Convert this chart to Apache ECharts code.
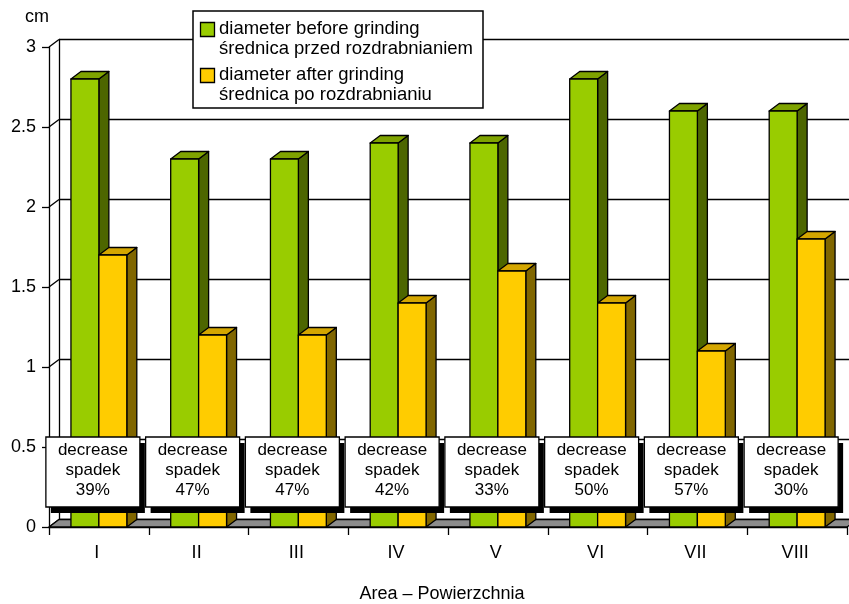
<!DOCTYPE html>
<html>
<head>
<meta charset="utf-8">
<title>Diameter before and after grinding</title>
<script src="https://cdn.jsdelivr.net/npm/echarts@6.0.0/dist/echarts.min.js"></script>
<style>
  html, body { margin: 0; padding: 0; background: #fff; }
  #chart { width: 849px; height: 604px; }
</style>
</head>
<body>
<div id="chart"></div>
<script>
// Areas I–VIII and the measured diameters (cm)
const categories = ['I', 'II', 'III', 'IV', 'V', 'VI', 'VII', 'VIII'];
const diameterBefore = [2.8, 2.3, 2.3, 2.4, 2.4, 2.8, 2.6, 2.6];
const diameterAfter = [1.7, 1.2, 1.2, 1.4, 1.6, 1.4, 1.1, 1.8];
const decreasePct = [39, 47, 47, 42, 33, 50, 57, 30];
const yTicks = [0, 0.5, 1, 1.5, 2, 2.5, 3];
const beforeName = ['diameter before grinding', 'średnica przed rozdrabnianiem'];
const afterName = ['diameter after grinding', 'średnica po rozdrabnianiu'];
const decreaseText = ['decrease', 'spadek'];
const yUnit = 'cm';
const xTitle = 'Area – Powierzchnia';

const FONT = '"Liberation Sans", Arial, Helvetica, sans-serif';
const DX = 10, DY = -7.5;          // depth offset of the 3D wall / bars
const BAR_FRAC = 0.28;             // bar width as fraction of category band
const EDGE = '#000';

const colors = {
  before: { front: '#99CC00', top: '#7FA300', side: '#4D6600' },
  after:  { front: '#FFCC00', top: '#D4A600', side: '#806600' }
};

// One 3D column: front face, right side and top face
function column3d(pal, dir) {
  return function (params, api) {
    const i = api.value(0), v = api.value(1);
    const top = api.coord([i, v]);
    const base = api.coord([i, 0]);
    const band = api.size([1, 0])[0];
    const w = band * BAR_FRAC;
    const x0 = dir < 0 ? top[0] - w : top[0];
    const x1 = x0 + w;
    const yt = top[1], yb = base[1];
    const st = { stroke: EDGE, lineWidth: 1.3, lineJoin: 'round' };
    return {
      type: 'group',
      children: [
        { type: 'polygon', shape: { points: [[x1, yt], [x1 + DX, yt + DY], [x1 + DX, yb + DY], [x1, yb]] },
          style: Object.assign({ fill: pal.side }, st) },
        { type: 'polygon', shape: { points: [[x0, yt], [x1, yt], [x1 + DX, yt + DY], [x0 + DX, yt + DY]] },
          style: Object.assign({ fill: pal.top }, st) },
        { type: 'rect', shape: { x: x0, y: yt, width: w, height: yb - yt },
          style: Object.assign({ fill: pal.front }, st) }
      ]
    };
  };
}

// Grey floor slab under the columns
function floor(params, api) {
  const band = api.size([1, 0])[0];
  const a = api.coord([0, 0]);
  const b = api.coord([categories.length - 1, 0]);
  const xl = a[0] - band / 2, xr = b[0] + band / 2, y = a[1];
  return {
    type: 'polygon',
    shape: { points: [[xl, y], [xr, y], [xr + DX, y + DY], [xl + DX, y + DY]] },
    style: { fill: '#8C8C8C', stroke: EDGE, lineWidth: 1.3 }
  };
}

// Short diagonal joining each front tick to the back-wall gridline
function connector(params, api) {
  const band = api.size([1, 0])[0];
  const p = api.coord([0, api.value(1)]);
  const x = p[0] - band / 2;
  return {
    type: 'line',
    shape: { x1: x, y1: p[1], x2: x + DX, y2: p[1] + DY },
    style: { stroke: EDGE, lineWidth: 1.3 }
  };
}

// Boxed "decrease / spadek / NN%" note below each pair of columns
function decreaseBox(params, api) {
  const i = api.value(0), pct = api.value(1);
  const base = api.coord([i, 0]);
  const w = 94, h = 70;
  const cx = base[0] - 6;
  const x = cx - w / 2, y = base[1] - 90;
  return {
    type: 'group',
    children: [
      { type: 'rect', shape: { x: x + 5, y: y + 6, width: w, height: h }, style: { fill: '#000' } },
      { type: 'rect', shape: { x: x, y: y, width: w, height: h },
        style: { fill: '#fff', stroke: EDGE, lineWidth: 1.3 } },
      { type: 'text', x: cx, y: y + 33,
        style: { text: decreaseText[0] + '\n' + decreaseText[1] + '\n' + pct + '%',
                 font: '17px ' + FONT, fill: '#000', align: 'center', verticalAlign: 'middle', lineHeight: 20 } }
    ]
  };
}

const chart = echarts.init(document.getElementById('chart'), null, { renderer: 'canvas' });

// Legend drawn as a framed box with two-line entries
const legendItems = [
  { name: beforeName, color: colors.before.front },
  { name: afterName, color: colors.after.front }
];
const legendGraphic = [
  { type: 'rect', shape: { x: 193, y: 11, width: 290, height: 97 },
    style: { fill: '#fff', stroke: EDGE, lineWidth: 1.5 }, z: 100 }
];
legendItems.forEach(function (it, k) {
  const y0 = 22 + k * 46;
  legendGraphic.push({ type: 'rect', shape: { x: 200.5, y: y0 + 0.5, width: 14, height: 14 },
    style: { fill: it.color, stroke: EDGE, lineWidth: 1.3 }, z: 101 });
  it.name.forEach(function (line, j) {
    legendGraphic.push({ type: 'text', x: 219, y: y0 + 7 + j * 20,
      style: { text: line, font: '18.5px ' + FONT, fill: '#000', align: 'left', verticalAlign: 'middle' },
      z: 101 });
  });
});

chart.setOption({
  animation: false,
  backgroundColor: '#fff',
  textStyle: { fontFamily: FONT },
  grid: [
    { left: 49, top: 47, width: 798, height: 480 },
    { left: 49 + DX, top: 47 + DY, width: 798, height: 480 }
  ],
  xAxis: [
    { type: 'category', gridIndex: 0, data: categories,
      axisLine: { lineStyle: { color: EDGE, width: 1.3 } },
      axisTick: { show: true, length: 8, alignWithLabel: false, lineStyle: { color: EDGE, width: 1.3 } },
      axisLabel: { fontSize: 18, color: '#000', fontFamily: FONT, margin: 17, padding: [0, 4, 0, 0] },
      splitLine: { show: false } },
    { type: 'category', gridIndex: 1, data: categories, show: false }
  ],
  yAxis: [
    { type: 'value', gridIndex: 0, min: 0, max: 3, interval: 0.5,
      axisLine: { show: true, lineStyle: { color: EDGE, width: 1.3 } },
      axisTick: { show: true, length: 7, lineStyle: { color: EDGE, width: 1.3 } },
      axisLabel: { fontSize: 18, color: '#000', fontFamily: FONT, margin: 13 },
      splitLine: { show: false } },
    { type: 'value', gridIndex: 1, min: 0, max: 3, interval: 0.5,
      axisLine: { show: true, lineStyle: { color: EDGE, width: 1.3 } },
      axisTick: { show: false },
      axisLabel: { show: false },
      splitLine: { show: true, lineStyle: { color: EDGE, width: 1.3 } } }
  ],
  graphic: legendGraphic.concat([
    { type: 'text', x: 37, y: 17, style: { text: yUnit, font: '18px ' + FONT, fill: '#000', align: 'center', verticalAlign: 'middle' } },
    { type: 'text', x: 442, y: 594, style: { text: xTitle, font: '18px ' + FONT, fill: '#000', align: 'center', verticalAlign: 'middle' } }
  ]),
  series: [
    { type: 'custom', name: 'connectors', xAxisIndex: 0, yAxisIndex: 0, z: 2, silent: true,
      renderItem: connector, data: yTicks.map(function (v) { return [0, v]; }) },
    { type: 'custom', name: 'floor', xAxisIndex: 0, yAxisIndex: 0, z: 3, silent: true,
      renderItem: floor, data: [[0, 0]] },
    { type: 'custom', name: beforeName.join(' / '), xAxisIndex: 0, yAxisIndex: 0, z: 4,
      renderItem: column3d(colors.before, -1),
      data: diameterBefore.map(function (v, i) { return [i, v]; }) },
    { type: 'custom', name: afterName.join(' / '), xAxisIndex: 0, yAxisIndex: 0, z: 5,
      renderItem: column3d(colors.after, 1),
      data: diameterAfter.map(function (v, i) { return [i, v]; }) },
    { type: 'custom', name: 'decrease', xAxisIndex: 0, yAxisIndex: 0, z: 10, silent: true,
      renderItem: decreaseBox, clip: false,
      data: decreasePct.map(function (p, i) { return [i, p]; }) }
  ]
});
</script>
</body>
</html>
